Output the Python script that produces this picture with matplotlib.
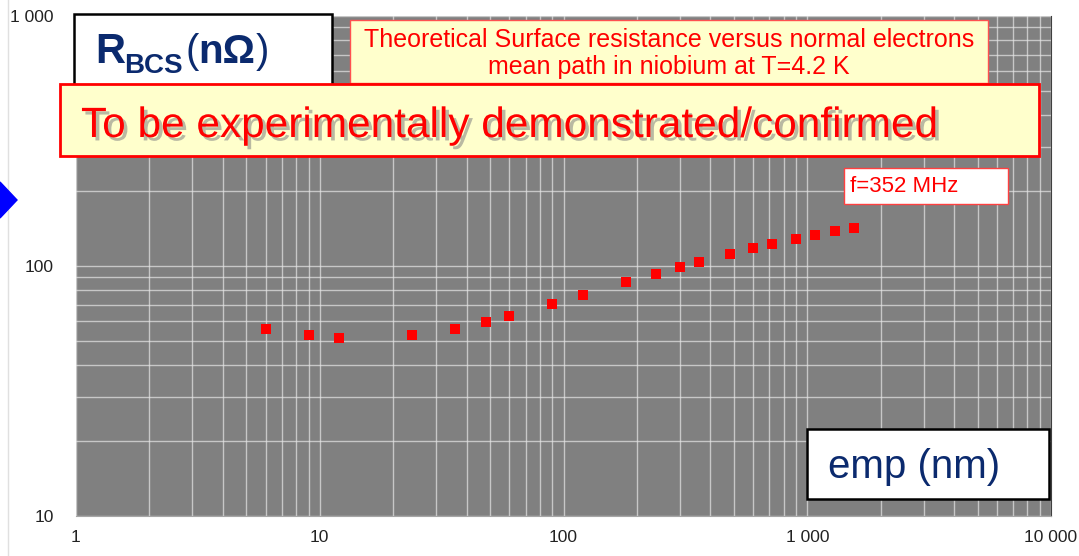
import matplotlib
matplotlib.use("Agg")
import matplotlib.pyplot as plt
import matplotlib.patheffects as pe
from matplotlib.patches import Rectangle, Polygon
from matplotlib.ticker import FuncFormatter, LogLocator, NullFormatter

# mean free path (nm) and BCS surface resistance (nOhm) at 352 MHz, 4.2 K
emp = [6, 9, 12, 24, 36, 48, 60, 90, 120, 180, 240, 300, 360, 480,
       600, 720, 900, 1080, 1300, 1550]
rbcs = [56, 52.8, 51.5, 53, 56, 59.7, 63, 70.3, 76.3, 86, 93, 99,
        103.5, 111.3, 117.7, 122.2, 128.5, 133, 138, 142]

title_lines = ["Theoretical Surface resistance versus normal electrons",
               "mean path in niobium at T=4.2 K"]
banner_text = "To be experimentally demonstrated/confirmed"
freq_text = "f=352 MHz"

W, H = 1079, 556
plt.rcParams['font.family'] = ['Liberation Sans', 'DejaVu Sans']

fig = plt.figure(figsize=(W / 100, H / 100), dpi=100)


def fx(x):
    return x / W


def fy(y):
    return 1 - y / H


def box(x0, y0, x1, y1, face, edge, lw):
    fig.add_artist(Rectangle((fx(x0), fy(y1)), fx(x1) - fx(x0), fy(y0) - fy(y1),
                             transform=fig.transFigure, facecolor=face,
                             edgecolor=edge, linewidth=lw, zorder=5))


ax = fig.add_axes([fx(76), fy(516), fx(1051) - fx(76), fy(16) - fy(516)])
ax.set_facecolor('#808080')
ax.set_xscale('log')
ax.set_yscale('log')
ax.set_xlim(1, 10000)
ax.set_ylim(10, 1000)

ax.plot(emp, rbcs, 's', color='red', markersize=7.5, markeredgewidth=0, zorder=3)

fmt = FuncFormatter(lambda v, p: f"{int(round(v)):,}".replace(",", " "))
for axis in (ax.xaxis, ax.yaxis):
    axis.set_major_locator(LogLocator(base=10))
    axis.set_minor_locator(LogLocator(base=10, subs=range(2, 10)))
    axis.set_major_formatter(fmt)
    axis.set_minor_formatter(NullFormatter())
ax.grid(True, which='both', color='#e6e6e6', linewidth=1, alpha=0.7)
ax.set_axisbelow(True)
ax.tick_params(which='both', length=0, labelsize=12.5, colors='#222222')
ax.tick_params(axis='y', pad=16)
ax.tick_params(axis='x', pad=10)
for s in ('left', 'top'):
    ax.spines[s].set_visible(False)
ax.spines['bottom'].set_color('#a6a6a6')
ax.spines['right'].set_color('#404040')

# thin line and blue arrow at the left edge
fig.add_artist(plt.Line2D([fx(8), fx(8)], [0, 1], transform=fig.transFigure,
                          color='#e0e0e0', linewidth=1, zorder=1))
fig.add_artist(Polygon([(fx(0), fy(182)), (fx(17), fy(200)), (fx(0), fy(218))],
                       closed=True, transform=fig.transFigure, color='#0000ff', zorder=4))

# R_BCS(nOhm) label box
box(74, 14, 332, 85, 'white', 'black', 1.8)
navy = '#0b2a6e'
fig.text(fx(95), fy(63), "R", fontsize=30, fontweight='bold', color=navy,
         va='baseline', ha='left', zorder=6)
fig.text(fx(124), fy(73), "BCS", fontsize=20, fontweight='bold', color=navy,
         va='baseline', ha='left', zorder=6)
fig.text(fx(186), fy(63), "(", fontsize=29, color=navy, va='baseline', ha='left', zorder=6)
fig.text(fx(198), fy(63), "n\u03a9", fontsize=29, fontweight='bold', color=navy,
         va='baseline', ha='left', zorder=6)
fig.text(fx(256), fy(63), ")", fontsize=29, color=navy, va='baseline', ha='left', zorder=6)

# title box
box(350, 20, 988, 83, '#ffffcc', '#ff5050', 1.0)
for line, base in zip(title_lines, (47, 74)):
    fig.text(fx(669), fy(base), line, fontsize=18, color='red', ha='center',
             va='baseline', zorder=6)

# banner
box(60, 84, 1039, 156, '#ffffcc', 'red', 2.0)
fig.text(fx(81), fy(137), banner_text, fontsize=30.5, color='red', ha='left', va='baseline',
         zorder=6, path_effects=[pe.withSimplePatchShadow(offset=(2.5, -2.5),
                                                          shadow_rgbFace='#808080', alpha=0.55)])

# frequency box
box(844, 168, 1008, 204, 'white', '#ff4040', 1.0)
fig.text(fx(850), fy(192), freq_text, fontsize=16, color='red', ha='left', va='baseline',
         zorder=6)

# x label box
box(807, 429, 1049, 499, 'white', 'black', 1.8)
fig.text(fx(828), fy(478), "emp (nm)", fontsize=29, color=navy, ha='left', va='baseline',
         zorder=6)

fig.savefig('out.png', dpi=100)
